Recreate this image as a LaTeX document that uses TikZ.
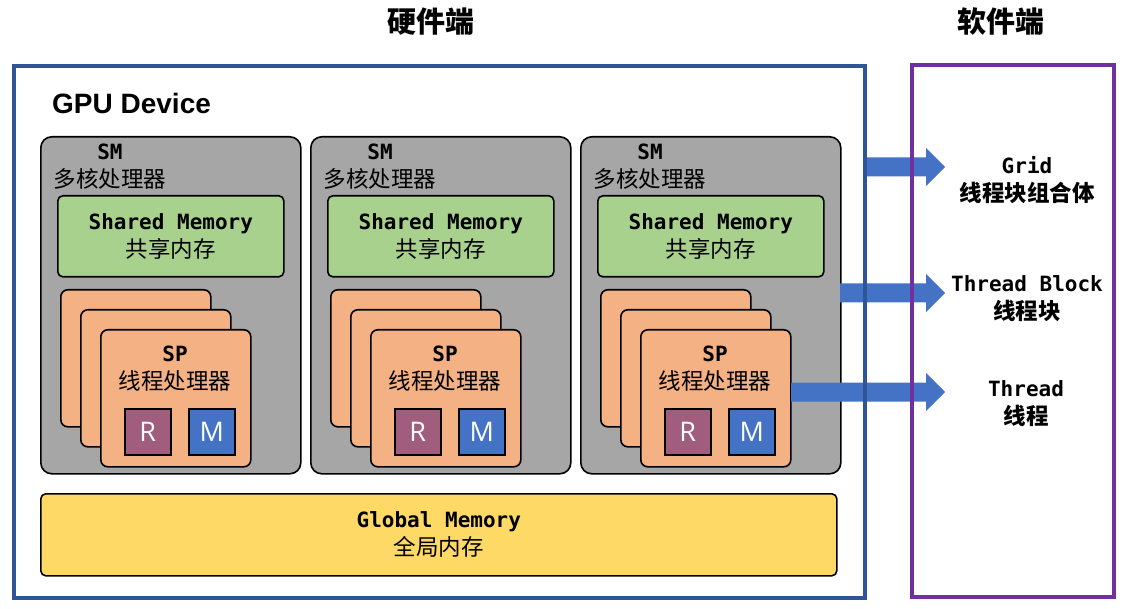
\documentclass[tikz,border=0pt]{standalone}
\usepackage{fontspec}
\setmainfont{Liberation Sans}
\setmonofont{DejaVu Sans Mono}
\newfontfamily\cjk{Noto Sans CJK SC}
\newfontfamily\rmlabel{Open Sans}
\usetikzlibrary{calc}
\definecolor{smgray}{HTML}{A6A6A6}
\definecolor{shgreen}{HTML}{A9D18E}
\definecolor{sporange}{HTML}{F4B183}
\definecolor{glyellow}{HTML}{FFD966}
\definecolor{regpurple}{HTML}{A15D7E}
\definecolor{memblue}{HTML}{4472C4}
\definecolor{framblue}{HTML}{2F5597}
\definecolor{frampurple}{HTML}{7030A0}
\newcommand\monotxt{\fontsize{21}{28}\selectfont\ttfamily\bfseries}
\newcommand\zhtxt{\fontsize{22.5}{28}\selectfont\cjk}
\newcommand\zhbold{\fontsize{22.5}{28}\selectfont\cjk\bfseries}
\newcommand\blockarrow[2]{\fill[memblue] ($(#1)+(0,-9.5)$) -- ($(#2)+(-19,-9.5)$) -- ($(#2)+(-19,-19)$) -- (#2) -- ($(#2)+(-19,19)$) -- ($(#2)+(-19,9.5)$) -- ($(#1)+(0,9.5)$) -- cycle;}
\begin{document}
\begin{tikzpicture}[x=1pt,y=-1pt,
  box/.style={draw=black,line width=1.6pt,anchor=north west,inner sep=0pt},
  smbox/.style={box,fill=smgray,rounded corners=11pt,minimum width=260pt,minimum height=337pt},
  shbox/.style={box,fill=shgreen,rounded corners=5pt,minimum width=226pt,minimum height=81pt},
  spbox/.style={box,fill=sporange,rounded corners=7pt,minimum width=150pt,minimum height=137pt},
  regbox/.style={box,minimum width=46pt,minimum height=46pt},
  txt/.style={align=center,inner sep=0pt,font=\fontsize{21}{28}\selectfont}]
\useasboundingbox (0,0) rectangle (1129,609);
\fill[white] (0,0) rectangle (1129,609);
% titles
\node[txt,font=\fontsize{29}{34}\selectfont\cjk\bfseries] (hwtitle) at (431,22) {硬件端};
\node[txt,font=\fontsize{29}{34}\selectfont\cjk\bfseries] (swtitle) at (1001,22) {软件端};
\node[anchor=west,inner sep=0pt,font=\fontsize{28}{32}\selectfont\bfseries] (gputitle) at (52,103) {GPU Device};
% SMs
\foreach \i/\L in {1/40,2/310,3/580}{
  \node[smbox] (sm\i) at (\L,136) {};
  \node[txt] (smt\i) at (\L+70,167) {\monotxt SM\\\zhtxt 多核处理器};
  \node[shbox] (sh\i) at (\L+17,195) {};
  \node[txt] at (sh\i.center) {\monotxt Shared Memory\\\zhtxt 共享内存};
  \node[spbox] (spa\i) at (\L+20,289) {};
  \node[spbox] (spb\i) at (\L+40,309) {};
  \node[spbox] (spc\i) at (\L+60,329) {};
  \node[txt] (spt\i) at (\L+135,369) {\monotxt SP\\\zhtxt 线程处理器};
  \node[regbox,fill=regpurple] (r\i) at (\L+84,408) {};
  \node[regbox,fill=memblue] (m\i) at (\L+148,408) {};
  \node[txt,text=white,font=\fontsize{27}{30}\selectfont\rmlabel] at (r\i.center) {R};
  \node[txt,text=white,font=\fontsize{27}{30}\selectfont\rmlabel] at (m\i.center) {M};
}
% global memory
\node[box,fill=glyellow,rounded corners=5pt,minimum width=796pt,minimum height=82pt] (glob) at (40,493) {};
\node[txt] at (glob.center) {\monotxt Global Memory\\\zhtxt 全局内存};
% software side texts
\node[txt] (grid) at (1027,180) {\monotxt Grid\\\zhbold 线程块组合体};
\node[txt] (tblock) at (1027,299) {\monotxt Thread Block\\\zhbold 线程块};
\node[txt] (thread) at (1026,404) {\monotxt Thread\\\zhbold 线程};
% arrows
\coordinate (a1s) at (866,167);
\coordinate (a1t) at (945,167);
\coordinate (a2s) at (840,293);
\coordinate (a2t) at (945,293);
\coordinate (a3s) at (791,392);
\coordinate (a3t) at (945,392);
\blockarrow{a1s}{a1t}
\blockarrow{a2s}{a2t}
\blockarrow{a3s}{a3t}
% frames
\draw[framblue,line width=4pt] (14,66) rectangle (865,598);
\draw[frampurple,line width=4pt] (911.5,65.5) rectangle (1113.5,597);
\end{tikzpicture}
\end{document}
